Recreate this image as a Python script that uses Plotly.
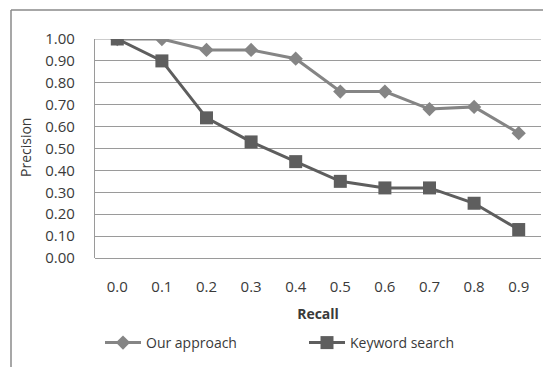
import plotly.graph_objects as go

recall = ["0.0", "0.1", "0.2", "0.3", "0.4", "0.5", "0.6", "0.7", "0.8", "0.9"]
our_approach = [1.00, 1.00, 0.95, 0.95, 0.91, 0.76, 0.76, 0.68, 0.69, 0.57]
keyword_search = [1.00, 0.90, 0.64, 0.53, 0.44, 0.35, 0.32, 0.32, 0.25, 0.13]
y_ticks = [round(i * 0.1, 1) for i in range(11)]

FONT = "Open Sans"
TXT = "#3a3a3a"

fig = go.Figure()
fig.add_trace(go.Scatter(
    x=recall, y=our_approach, name="Our approach", mode="lines+markers",
    line=dict(color="#858585", width=3),
    marker=dict(symbol="diamond", size=11, color="#858585"),
))
fig.add_trace(go.Scatter(
    x=recall, y=keyword_search, name="Keyword search", mode="lines+markers",
    line=dict(color="#5e5e5e", width=3),
    marker=dict(symbol="square", size=13, color="#5e5e5e"),
))

L, R, T, B = 95, 2, 39, 109
W, H = 543, 367
pw, ph = W - L - R, H - T - B

def px(x):
    return (x - L) / pw

def py(y):
    return (H - B - y) / ph

fig.update_layout(
    width=W, height=H,
    margin=dict(l=L, r=R, t=T, b=B),
    paper_bgcolor="white", plot_bgcolor="white",
    font=dict(family=FONT, color=TXT, size=15),
    showlegend=True,
    legend=dict(
        orientation="h", x=px(100), y=py(343), xanchor="left", yanchor="middle",
        font=dict(size=14, family=FONT, color=TXT),
        entrywidth=153, entrywidthmode="pixels",
        itemwidth=36, bgcolor="rgba(0,0,0,0)",
    ),
    xaxis=dict(
        type="category", range=[-0.5, 9.5], showgrid=False, zeroline=False,
        showline=False, ticks="", ticklabelstandoff=18,
        tickfont=dict(size=15, family=FONT, color=TXT),
        title=dict(text="<b>Recall</b>", font=dict(size=14, family=FONT, color=TXT), standoff=14),
        fixedrange=True,
    ),
    yaxis=dict(
        range=[0, 1.0], tickvals=y_ticks, tickformat=".2f",
        showgrid=True, gridcolor="#9a9a9a", gridwidth=1.2,
        zeroline=True, zerolinecolor="#9a9a9a", zerolinewidth=1.2,
        showline=True, linecolor="#9a9a9a", linewidth=1.2,
        ticks="", ticklabelstandoff=16,
        tickfont=dict(size=15, family=FONT, color=TXT),
        fixedrange=True,
    ),
    annotations=[dict(
        text="Precision", xref="paper", yref="paper", x=px(25), y=py(148),
        textangle=-90, showarrow=False, xanchor="center", yanchor="middle",
        font=dict(size=14, family=FONT, color=TXT),
    )],
    shapes=[
        dict(type="line", xref="paper", yref="paper", x0=px(11), x1=px(11),
             y0=py(10), y1=py(380), line=dict(color="#8a8a8a", width=1.5)),
        dict(type="line", xref="paper", yref="paper", x0=px(11), x1=px(560),
             y0=py(10), y1=py(10), line=dict(color="#8a8a8a", width=1.5)),
    ],
)
# top gridline at 1.00
fig.add_hline(y=1.0, line=dict(color="#9a9a9a", width=1.2), layer="below")

fig.write_html("out.html")
